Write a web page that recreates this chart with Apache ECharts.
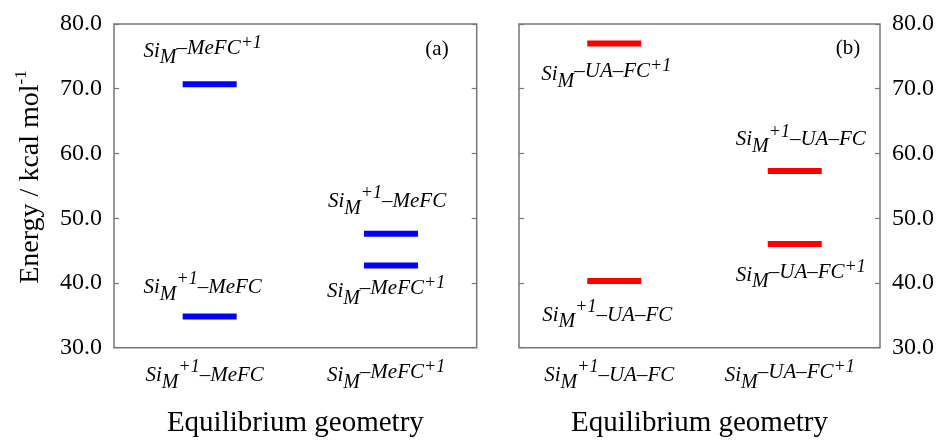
<!DOCTYPE html>
<html><head><meta charset="utf-8">
<script src="https://cdn.jsdelivr.net/npm/echarts@6/dist/echarts.min.js"></script>
<style>html,body{margin:0;padding:0;background:#fff}#c{width:940px;height:446px}</style>
</head><body><div id="c"></div>
<script>
// ---------- data ----------
const categoriesA = ['Si_M^+1–MeFC', 'Si_M–MeFC^+1'];
const categoriesB = ['Si_M^+1–UA–FC', 'Si_M–UA–FC^+1'];
const yMin = 30, yMax = 80, yStep = 10;
const levelValuesA = [70.7, 34.8, 47.6, 42.7];
const levelCategoryA = [0, 0, 1, 1];
const levelStateA = ['Si_M–MeFC^+1', 'Si_M^+1–MeFC', 'Si_M^+1–MeFC', 'Si_M–MeFC^+1'];
const levelValuesB = [77.0, 40.3, 57.3, 46.0];
const levelCategoryB = [0, 0, 1, 1];
const levelStateB = ['Si_M–UA–FC^+1', 'Si_M^+1–UA–FC', 'Si_M^+1–UA–FC', 'Si_M–UA–FC^+1'];
const panelTags = ['(a)', '(b)'];
const yAxisTitle = 'Energy / kcal mol';
const yAxisTitleSup = '-1';
const xAxisTitle = 'Equilibrium geometry';

// ---------- layout / style ----------
const labelOffsetsA = [[-7, -33], [-7, -29], [-4, -32], [-5, 26]];
const labelOffsetsB = [[-8, 31], [-7, 34], [6, -31], [6, 31]];
const SERIF = 'Liberation Serif';
const FRAME = '#777777';

const rich = {
  m:   {fontFamily: SERIF, fontStyle: 'italic', fontSize: 21, color: '#000', lineHeight: 30},
  sub: {fontFamily: SERIF, fontStyle: 'italic', fontSize: 20, color: '#000', lineHeight: 30, padding: [14, 0, 0, 0]},
  mid: {fontFamily: SERIF, fontStyle: 'italic', fontSize: 21, color: '#000', lineHeight: 30, padding: [0, 0, 6, 0]},
  sup: {fontFamily: SERIF, fontStyle: 'italic', fontSize: 18, color: '#000', lineHeight: 30, padding: [0, 0, 16, 0]}
};

function toRich(s) {
  const parts = s.split(/(_[A-Za-z]+|\^[+\-0-9]+)/).filter(p => p !== '');
  let out = '', prev = '';
  parts.forEach(p => {
    if (p[0] === '_') { out += '{sub|' + p.slice(1) + '}'; prev = 'sub'; }
    else if (p[0] === '^') { out += '{sup|' + p.slice(1) + '}'; prev = 'sup'; }
    else { out += '{' + (prev === 'sub' ? 'mid' : 'm') + '|' + p + '}'; prev = 'm'; }
  });
  return out;
}

function levelData(values, cats, states, offsets) {
  return values.map((v, i) => ({
    value: [cats[i], v],
    label: {
      show: true, position: 'inside', offset: offsets[i],
      color: '#000', textBorderWidth: 0, textBorderColor: 'transparent', textShadowBlur: 0,
      formatter: () => toRich(states[i]), rich: rich
    }
  }));
}

function xAxisFor(grid, cats) {
  return {
    gridIndex: grid, type: 'category', data: cats,
    axisLine: {show: false}, axisTick: {show: false},
    axisLabel: {formatter: v => toRich(v), rich: rich, margin: 13, interval: 0, color: '#000'},
    name: xAxisTitle, nameLocation: 'middle', nameGap: 61,
    nameTextStyle: {fontFamily: SERIF, fontSize: 29, color: '#000'},
    splitLine: {show: false}
  };
}

function yAxisFor(grid, pos, showLabel) {
  return {
    gridIndex: grid, type: 'value', position: pos,
    min: yMin, max: yMax, interval: yStep,
    axisLine: {show: false},
    axisTick: {show: true, inside: true, length: 5, lineStyle: {color: FRAME, width: 1.2}},
    splitLine: {show: false},
    axisLabel: {show: showLabel, formatter: v => v.toFixed(1), margin: 12,
      fontFamily: SERIF, fontSize: 24, color: '#000'}
  };
}

const chart = echarts.init(document.getElementById('c'), null, {renderer: 'canvas'});
chart.setOption({
  animation: false,
  backgroundColor: '#fff',
  grid: [
    {left: 114, top: 24, width: 362.7, height: 323.7, show: true, borderColor: FRAME, borderWidth: 1.5, containLabel: false},
    {left: 519, top: 24, width: 361, height: 323.7, show: true, borderColor: FRAME, borderWidth: 1.5, containLabel: false}
  ],
  xAxis: [xAxisFor(0, categoriesA), xAxisFor(1, categoriesB)],
  yAxis: [yAxisFor(0, 'left', true), yAxisFor(0, 'right', false),
          yAxisFor(1, 'left', false), yAxisFor(1, 'right', true)],
  series: [
    {type: 'scatter', xAxisIndex: 0, yAxisIndex: 0, symbol: 'rect', symbolSize: [54, 6], symbolOffset: [5, 0],
     itemStyle: {color: '#0000ff', opacity: 1}, emphasis: {disabled: true}, silent: true,
     data: levelData(levelValuesA, levelCategoryA, levelStateA, labelOffsetsA)},
    {type: 'scatter', xAxisIndex: 1, yAxisIndex: 3, symbol: 'rect', symbolSize: [54, 6], symbolOffset: [5, 0],
     itemStyle: {color: '#ff0000', opacity: 1}, emphasis: {disabled: true}, silent: true,
     data: levelData(levelValuesB, levelCategoryB, levelStateB, labelOffsetsB)}
  ],
  graphic: [
    {type: 'text', x: 31, y: 177, rotation: Math.PI / 2,
     style: {text: '{t|' + yAxisTitle + '}{s|' + yAxisTitleSup + '}', align: 'center', verticalAlign: 'middle',
       rich: {t: {fontFamily: SERIF, fontSize: 28, fill: '#000', lineHeight: 34},
              s: {fontFamily: SERIF, fontSize: 17, fill: '#000', lineHeight: 34, padding: [0, 0, 18, 0]}}}},
    {type: 'text', x: 437, y: 49.5,
     style: {text: panelTags[0], font: '21px "Liberation Serif"', fill: '#000', align: 'center', verticalAlign: 'middle'}},
    {type: 'text', x: 848, y: 48.5,
     style: {text: panelTags[1], font: '21px "Liberation Serif"', fill: '#000', align: 'center', verticalAlign: 'middle'}}
  ]
});
</script>
</body></html>
